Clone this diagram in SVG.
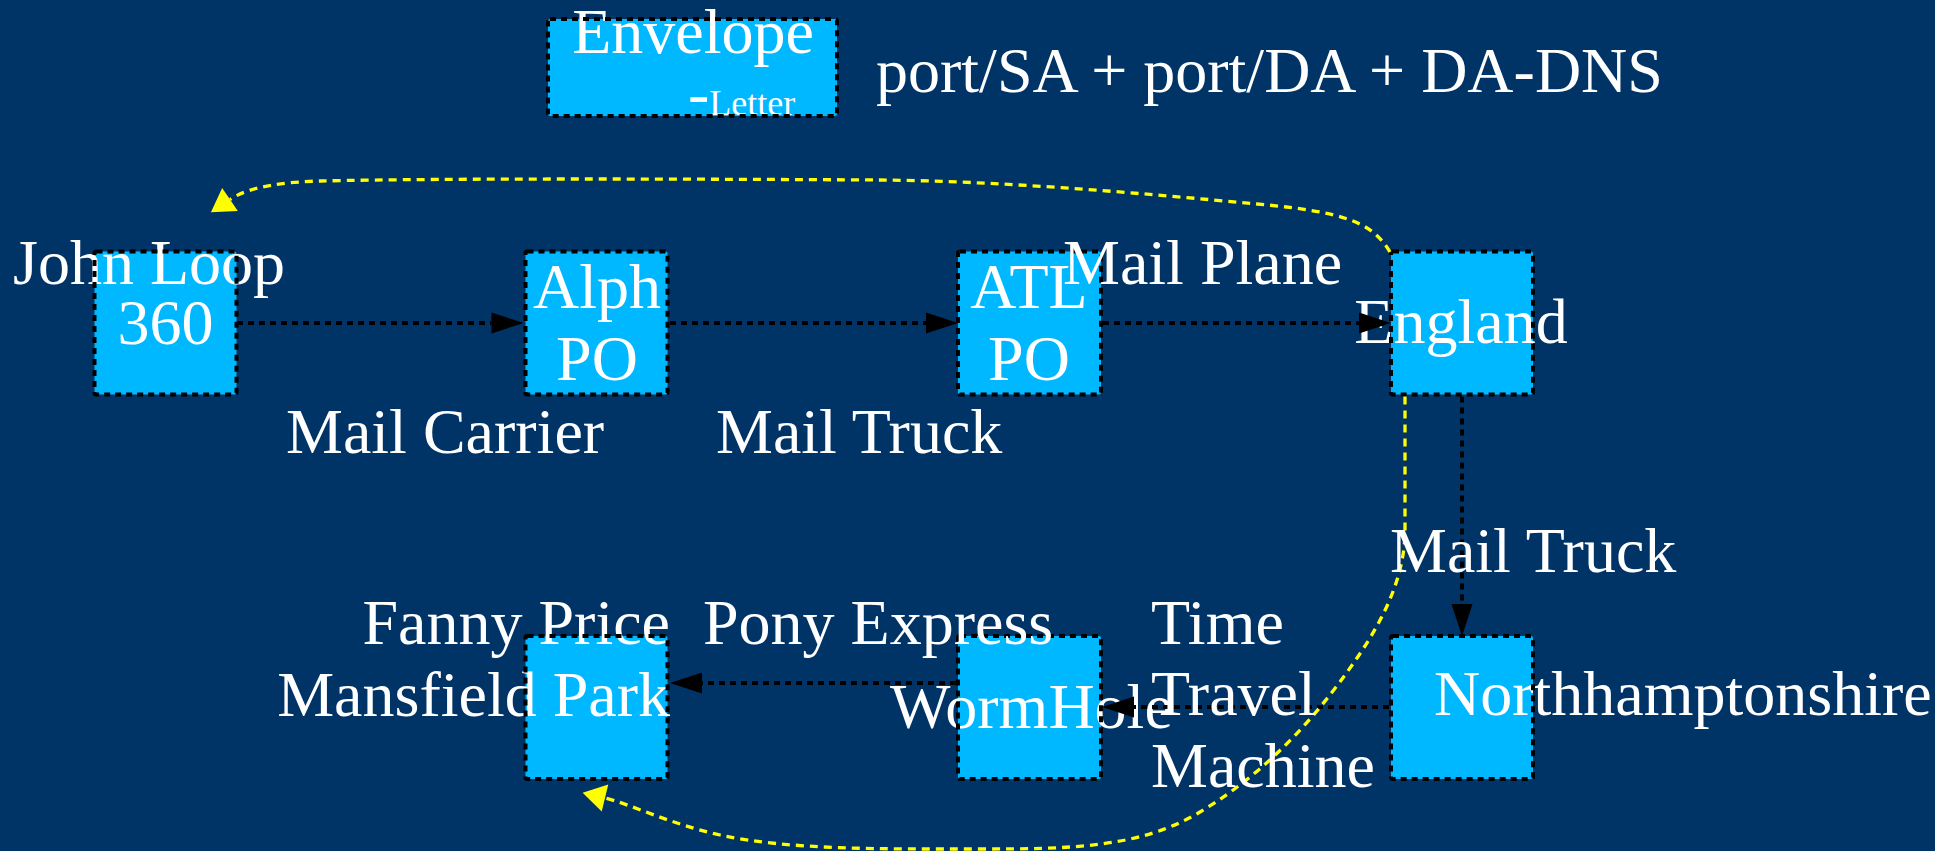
<svg xmlns="http://www.w3.org/2000/svg" width="1935" height="851" viewBox="0 0 1935 851">
  <style>
    .bg { fill: #003366; }
    .box { fill: #00B8FF; }
    .border { fill: none; stroke: #000; stroke-width: 4; stroke-dasharray: 6 5; }
    .lbl { font-family: "Liberation Serif", "Times New Roman", serif; font-size: 64px; fill: #fff; }
    .mid { text-anchor: middle; }
    .end { text-anchor: end; }
    .edge { fill: none; stroke: #000; stroke-width: 4; stroke-dasharray: 6 5; }
    .back { fill: none; stroke: #FFFF00; stroke-width: 3.3; stroke-dasharray: 8 6; }
  </style>
  <defs>
    <marker id="arrowBlack" markerUnits="userSpaceOnUse" markerWidth="40" markerHeight="30" refX="0" refY="0" orient="auto" overflow="visible">
      <path d="M0,-10.5 L32,0 L0,10.5 z" fill="#000"/>
    </marker>
    <marker id="arrowYellow" markerUnits="userSpaceOnUse" markerWidth="40" markerHeight="40" refX="0" refY="0" orient="auto" overflow="visible">
      <path d="M0,-14 L23,0 L0,14 z" fill="#FFFF00"/>
    </marker>
  </defs>

  <rect class="bg" x="0" y="0" width="1935" height="851"/>

  <!-- legend -->
  <g id="envelope">
    <rect class="box" x="548" y="19" width="289" height="97" rx="2"/>
    <text class="lbl mid" x="693" y="53">Envelope</text>
    <text class="lbl" x="688" y="115">-<tspan font-size="36">Letter</tspan></text>
    <rect class="border" x="548" y="19" width="289" height="97" rx="2"/>
  </g>
  <text id="legend-note" class="lbl" x="876" y="92">port/SA + port/DA + DA-DNS</text>

  <!-- nodes -->
  <g id="john-loop">
    <rect class="box" x="94.5" y="251.5" width="142" height="143" rx="2"/>
    <text class="lbl" x="13" y="284">John Loop</text>
    <text class="lbl mid" x="165.5" y="344">360</text>
    <rect class="border" x="94.5" y="251.5" width="142" height="143" rx="2"/>
  </g>
  <g id="alph-po">
    <rect class="box" x="525.5" y="251.5" width="142" height="143" rx="2"/>
    <text class="lbl mid" x="597" y="308">Alph</text>
    <text class="lbl mid" x="597" y="380">PO</text>
    <rect class="border" x="525.5" y="251.5" width="142" height="143" rx="2"/>
  </g>
  <g id="atl-po">
    <rect class="box" x="958" y="251.5" width="143" height="143" rx="2"/>
    <text class="lbl mid" x="1029" y="308">ATL</text>
    <text class="lbl mid" x="1029" y="380">PO</text>
    <rect class="border" x="958" y="251.5" width="143" height="143" rx="2"/>
  </g>
  <g id="england">
    <rect class="box" x="1391" y="251.5" width="142" height="143" rx="2"/>
    <text class="lbl mid" x="1461" y="343">England</text>
    <rect class="border" x="1391" y="251.5" width="142" height="143" rx="2"/>
  </g>
  <g id="northhamptonshire">
    <rect class="box" x="1391" y="636" width="142" height="143" rx="2"/>
    <text class="lbl" x="1434" y="715">Northhamptonshire</text>
    <rect class="border" x="1391" y="636" width="142" height="143" rx="2"/>
  </g>
  <g id="wormhole">
    <rect class="box" x="958" y="636" width="143" height="143" rx="2"/>
    <text class="lbl" x="890" y="728">WormHole</text>
    <rect class="border" x="958" y="636" width="143" height="143" rx="2"/>
  </g>
  <g id="mansfield-park">
    <rect class="box" x="525.5" y="636" width="142" height="143" rx="2"/>
    <text class="lbl end" x="670" y="644">Fanny Price</text>
    <text class="lbl end" x="670" y="716">Mansfield Park</text>
    <rect class="border" x="525.5" y="636" width="142" height="143" rx="2"/>
  </g>

  <!-- connectors -->
  <g id="connectors">
    <path class="edge" d="M237,323 H491.5" marker-end="url(#arrowBlack)"/>
    <path class="edge" d="M670,323 H926" marker-end="url(#arrowBlack)"/>
    <path class="edge" d="M1103,323 H1359" marker-end="url(#arrowBlack)"/>
    <path class="edge" d="M1462,396.5 V604" marker-end="url(#arrowBlack)"/>
    <path class="edge" d="M1389,707 H1134" marker-end="url(#arrowBlack)"/>
    <path class="edge" d="M956,683 H702" marker-end="url(#arrowBlack)"/>
    <path class="back" d="M1390,252 C1372,222 1345,212 1257,204 C1140,193 1000,181 880,180 C700,179 450,178 320,181 C285,182 250,186 230,199.5" marker-end="url(#arrowYellow)"/>
    <path class="back" d="M1405,396.5 L1405,535 C1403,585 1378,630 1345,675 C1315,716 1270,770 1200,812 C1140,848 1070,849 980,849 C880,849 790,850 720,835 C670,824 630,804 605,798" marker-end="url(#arrowYellow)"/>
  </g>

  <!-- connector labels -->
  <g id="connector-labels">
    <text class="lbl" x="286" y="453">Mail Carrier</text>
    <text class="lbl" x="716" y="453">Mail Truck</text>
    <text class="lbl" x="1063" y="284">Mail Plane</text>
    <text class="lbl" x="1390" y="572">Mail Truck</text>
    <text class="lbl" x="1151" y="644">Time</text>
    <text class="lbl" x="1151" y="715">Travel</text>
    <text class="lbl" x="1151" y="787">Machine</text>
    <text class="lbl" x="703" y="644">Pony Express</text>
  </g>
</svg>
